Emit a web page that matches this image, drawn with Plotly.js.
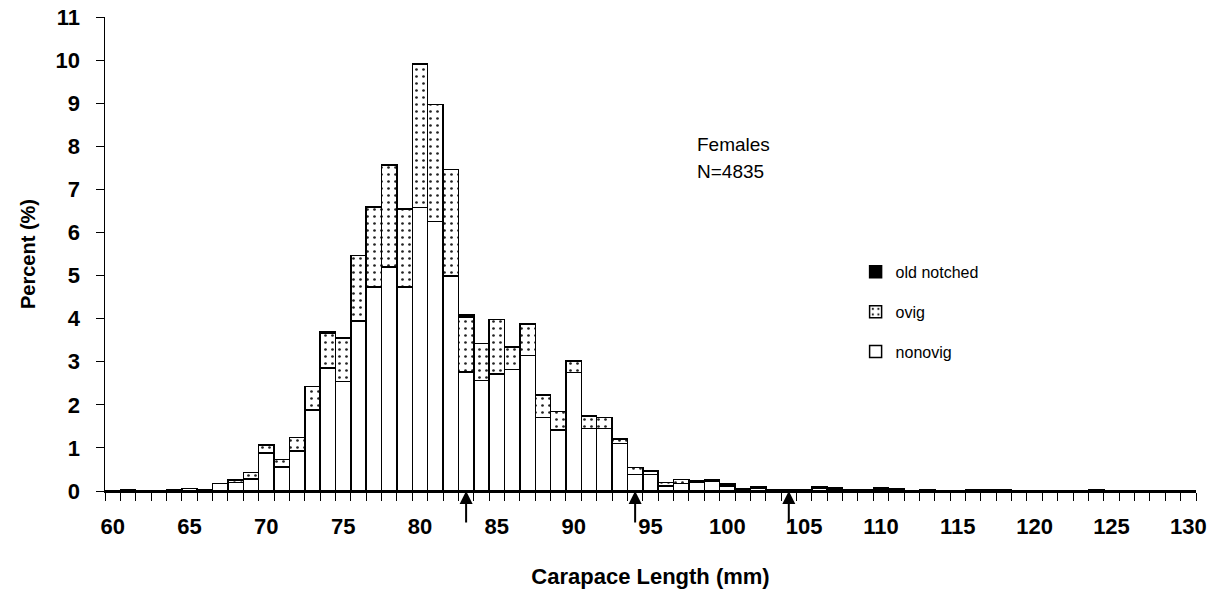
<!DOCTYPE html>
<html>
<head>
<meta charset="utf-8">
<script src="https://cdn.plot.ly/plotly-3.0.1.min.js"></script>
<style>
  html, body { margin: 0; padding: 0; background: #fff; }
  #chart { width: 1221px; height: 596px; }
</style>
</head>
<body>
<div id="chart"></div>
<script>
// Carapace length classes (mm)
const lengths = [60,61,62,63,64,65,66,67,68,69,70,71,72,73,74,75,76,77,78,79,80,81,82,83,84,85,86,87,88,89,90,91,92,93,94,95,96,97,98,99,100,101,102,103,104,105,106,107,108,109,110,111,112,113,114,115,116,117,118,119,120,121,122,123,124,125,126,127,128,129,130];

// Percent of females, by class
const nonovig = [0,0.04,0,0,0.03,0.06,0.04,0.17,0.20,0.28,0.88,0.56,0.93,1.88,2.86,2.54,3.95,4.73,5.20,4.73,6.58,6.26,4.99,2.76,2.57,2.71,2.82,3.15,1.71,1.42,2.75,1.45,1.45,1.10,0.38,0.38,0.12,0.17,0.20,0.22,0.12,0.05,0.06,0.03,0.03,0.02,0.06,0.04,0.03,0.03,0.04,0.05,0,0.03,0,0,0.03,0.03,0.03,0,0,0,0,0,0.03,0,0,0,0,0,0];
const ovig = [0,0,0,0,0,0,0,0,0.05,0.15,0.19,0.17,0.31,0.55,0.80,1.01,1.52,1.86,2.36,1.81,3.33,2.71,2.47,1.28,0.85,1.27,0.52,0.72,0.52,0.43,0.27,0.28,0.26,0.11,0.16,0.08,0.08,0.10,0.03,0.02,0.02,0,0,0,0,0,0.03,0,0,0,0,0,0,0,0,0,0,0,0,0,0,0,0,0,0,0,0,0,0,0,0];
const oldNotched = [0,0,0,0,0,0,0,0,0,0,0,0,0,0,0.04,0,0,0,0,0,0,0,0,0.05,0,0,0,0,0,0,0,0.02,0,0,0,0,0,0,0.01,0.03,0.03,0,0.03,0,0,0,0,0.03,0,0,0.03,0,0,0,0,0,0,0,0,0,0,0,0,0,0,0,0,0,0,0,0];

// Arrow marks under the axis (mm)
const arrowMarks = [83, 94, 104];

const xTickLabels = [60,65,70,75,80,85,90,95,100,105,110,115,120,125,130];
const yTickLabels = [0,1,2,3,4,5,6,7,8,9,10,11];

const FONT = 'Arial, "Liberation Sans", sans-serif';
const outline = { color: '#000', width: 1.5 };

const traces = [
  {
    type: 'bar', name: 'nonovig', x: lengths, y: nonovig, legendgroup: 'c', legendrank: 3,
    marker: { color: '#ffffff', line: outline }
  },
  {
    type: 'bar', name: 'ovig', x: lengths, y: ovig, legendgroup: 'b', legendrank: 2,
    marker: { color: '#ffffff', line: outline,
      pattern: { shape: '.', fgcolor: '#222', bgcolor: '#ffffff', size: 7, solidity: 0.12 } }
  },
  {
    type: 'bar', name: 'old notched', x: lengths, y: oldNotched, legendgroup: 'a', legendrank: 1,
    marker: { color: '#000000', line: outline }
  }
];

const annotations = [
  { xref: 'paper', yref: 'paper', x: 0.5408, y: 0.730, xanchor: 'left', yanchor: 'middle',
    text: 'Females', showarrow: false, font: { family: FONT, size: 19, color: '#000' } },
  { xref: 'paper', yref: 'paper', x: 0.5408, y: 0.673, xanchor: 'left', yanchor: 'middle',
    text: 'N=4835', showarrow: false, font: { family: FONT, size: 19, color: '#000' } }
];
arrowMarks.forEach(v => annotations.push({
  xref: 'x', yref: 'y', x: v, y: 0, ax: 0, ay: 33, text: '', showarrow: true,
  arrowhead: 2, arrowsize: 1.3, arrowwidth: 2, arrowcolor: '#000', standoff: 0
}));

const layout = {
  width: 1221, height: 596,
  margin: { l: 105, r: 25, t: 17, b: 105, autoexpand: false },
  paper_bgcolor: '#fff', plot_bgcolor: '#fff',
  barmode: 'stack', bargap: 0,
  font: { family: FONT, color: '#000' },
  showlegend: true,
  legend: {
    x: 0.688, y: 0.498, xanchor: 'left', yanchor: 'top',
    traceorder: 'grouped',
    bgcolor: 'rgba(0,0,0,0)', borderwidth: 0,
    tracegroupgap: 16,
    font: { family: FONT, size: 16, color: '#000' }
  },
  xaxis: {
    range: [59.5, 130.5],
    tickmode: 'array', tickvals: xTickLabels, ticktext: xTickLabels.map(String),
    ticks: '', ticklabelstandoff: 15,
    minor: { tickmode: 'linear', tick0: 59.5, dtick: 1, ticks: 'outside', ticklen: 8, tickwidth: 1, tickcolor: '#000', showgrid: false },
    showline: true, linecolor: '#000', linewidth: 1.5,
    showgrid: false, zeroline: false,
    tickfont: { family: FONT, size: 22, color: '#000', weight: 'bold' },
    title: { text: '<b>Carapace Length (mm)</b>', standoff: 30, font: { family: FONT, size: 22, color: '#000' } }
  },
  yaxis: {
    range: [0, 11],
    tickmode: 'array', tickvals: yTickLabels, ticktext: yTickLabels.map(String),
    ticks: 'outside', ticklen: 8, tickwidth: 1, tickcolor: '#000', ticklabelstandoff: 11,
    showline: true, linecolor: '#000', linewidth: 1.5,
    showgrid: false, zeroline: false,
    tickfont: { family: FONT, size: 22, color: '#000', weight: 'bold' },
    title: { text: '<b>Percent (%)</b>', standoff: 14, font: { family: FONT, size: 20, color: '#000' } }
  },
  annotations: annotations
};

Plotly.newPlot('chart', traces, layout, { displayModeBar: false, staticPlot: true });
</script>
</body>
</html>
